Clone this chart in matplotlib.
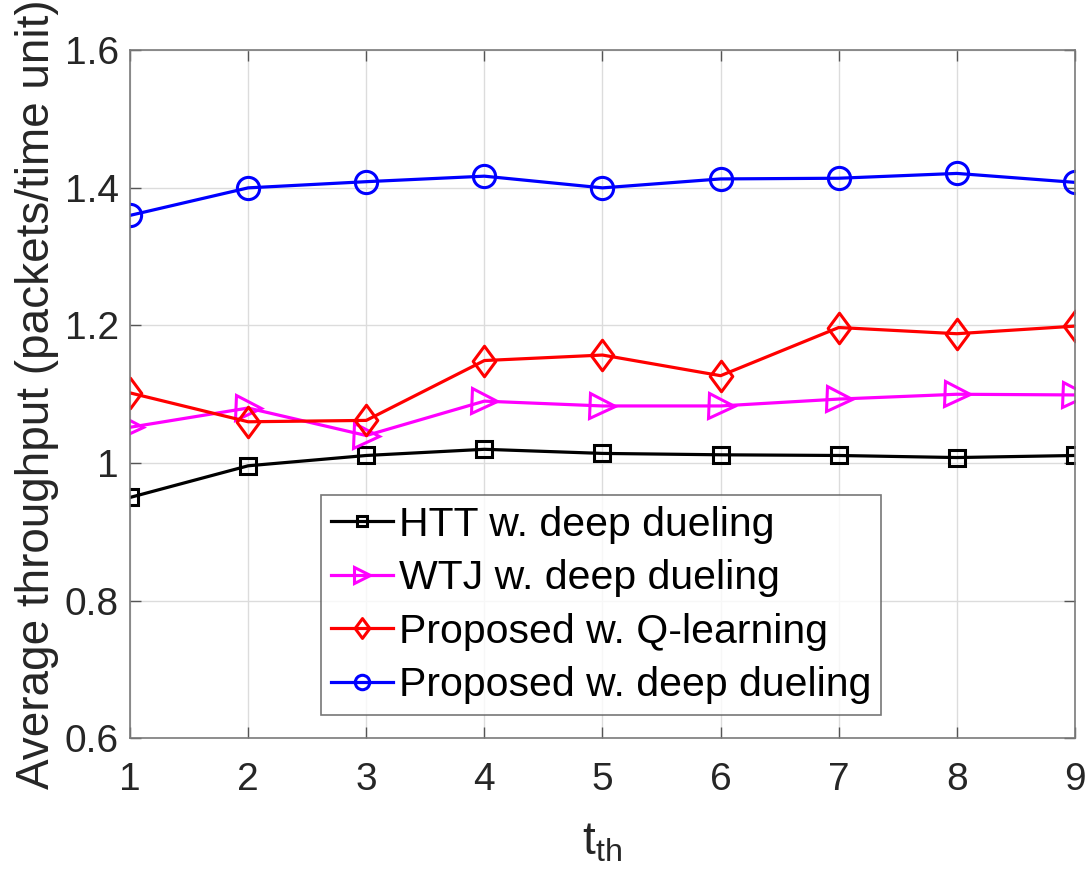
import matplotlib.pyplot as plt
import numpy as np
from matplotlib.path import Path

plt.rcParams['font.family'] = ['Liberation Sans', 'DejaVu Sans']

t_th = np.arange(1, 10)

htt_dueling = [0.950, 0.996, 1.011, 1.020, 1.014, 1.012, 1.011, 1.008, 1.011]
wtj_dueling = [1.052, 1.080, 1.040, 1.090, 1.083, 1.083, 1.093, 1.100, 1.099]
prop_qlearn = [1.102, 1.060, 1.062, 1.149, 1.157, 1.127, 1.197, 1.188, 1.199]
prop_dueling = [1.360, 1.400, 1.409, 1.417, 1.400, 1.413, 1.414, 1.421, 1.408]

labels = ["HTT w. deep dueling", "WTJ w. deep dueling",
          "Proposed w. Q-learning", "Proposed w. deep dueling"]

# MATLAB-like diamond: a bit taller than wide
diamond = Path([(0, 1), (0.74, 0), (0, -1), (-0.74, 0), (0, 1)],
               [Path.MOVETO, Path.LINETO, Path.LINETO, Path.LINETO, Path.CLOSEPOLY])

fig = plt.figure(figsize=(10.88, 8.82), dpi=100)
ax = fig.add_axes([0.1195, 0.163, 0.8685, 0.780])

lw = 2.3
mew = 2.2
ax.plot(t_th, htt_dueling, color='k', marker='s', markersize=12, lw=lw,
        mew=mew, mfc='none', label=labels[0])
ax.plot(t_th, wtj_dueling, color='#ff00ff', marker='>', markersize=18, lw=lw,
        mew=mew, mfc='none', label=labels[1])
ax.plot(t_th, prop_qlearn, color='#ff0000', marker=diamond, markersize=22, lw=lw,
        mew=mew, mfc='none', label=labels[2])
ax.plot(t_th, prop_dueling, color='#0000ff', marker='o', markersize=16, lw=lw,
        mew=mew, mfc='none', label=labels[3])

ax.set_xlim(1, 9)
ax.set_ylim(0.6, 1.6)
ax.set_xticks(t_th)
ax.set_yticks([0.6, 0.8, 1.0, 1.2, 1.4, 1.6])
ax.set_yticklabels(['0.6', '0.8', '1', '1.2', '1.4', '1.6'])
ax.grid(True, color='#dcdcdc', lw=1)
ax.set_axisbelow(True)
ax.tick_params(direction='in', labelsize=28, length=8, width=1, color='#555555',
               labelcolor='#262626', top=True, right=True)
ax.tick_params(axis='x', pad=17)
ax.tick_params(axis='y', pad=8)
for s in ax.spines.values():
    s.set_color('#7a7a7a')
    s.set_linewidth(1.2)

ax.set_xlabel(r'$\mathregular{t_{th}}$', fontsize=33, color='#262626', labelpad=16)
ax.set_ylabel('Average throughput (packets/time unit)', fontsize=33,
              color='#262626', labelpad=4)

leg = ax.legend(loc='upper left', bbox_to_anchor=(0.202, 0.353), fontsize=29.5,
                frameon=True, fancybox=False, edgecolor='#555555',
                borderpad=0.25, labelspacing=0.38, handlelength=1.5,
                handletextpad=0.15, borderaxespad=0)
leg.get_frame().set_linewidth(1.2)
for h in leg.legend_handles:
    h.set_markersize(h.get_markersize() * 0.65)

fig.savefig('out.png', dpi=100)
